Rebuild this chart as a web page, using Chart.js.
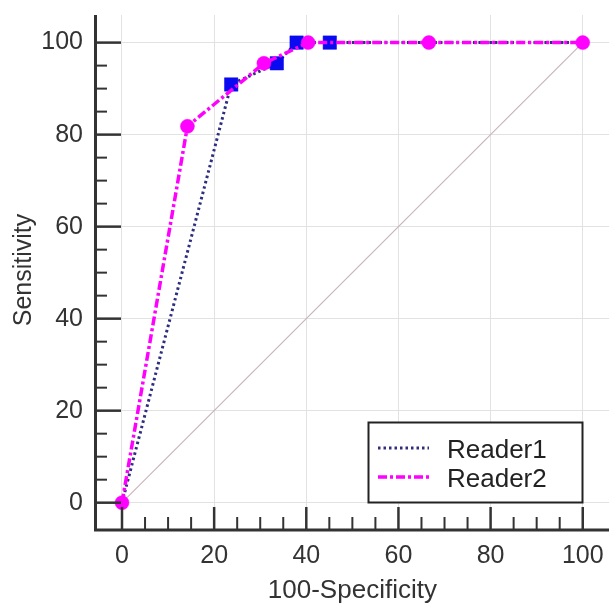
<!DOCTYPE html>
<html lang="en">
<head>
    <meta charset="UTF-8">
    <title>ROC curves</title>
    <style>
        html, body { margin: 0; padding: 0; background: #fff; }
        .chart-box { width: 609px; height: 608px; }
    </style>
</head>
<body>
    <div class="chart-box">
        <canvas id="rocChart" width="609" height="608"></canvas>
    </div>
    <script src="https://cdn.jsdelivr.net/npm/chart.js"></script>
    <script>
        // values (100-Specificity, Sensitivity)
        const reader1X = [0, 23.7, 33.6, 37.9, 45.1, 100];
        const reader1Y = [0, 90.9, 95.5, 100, 100, 100];
        const reader2X = [0, 14.2, 30.8, 40.4, 66.6, 100];
        const reader2Y = [0, 81.8, 95.5, 100, 100, 100];
        const diagX = [0, 100];
        const diagY = [0, 100];
        const tickValues = [0, 20, 40, 60, 80, 100];
        const seriesNames = ["Reader1", "Reader2"];

        const FONT = "'Liberation Sans', Arial, sans-serif";
        const TEXT = "#333";

        function toPoints(xs, ys) {
            return xs.map((x, i) => ({ x: x, y: ys[i] }));
        }

        // keep the plot area fixed: no extra room for overflowing labels
        function fixBox(s, w, h) {
            if (w) s.width = w;
            if (h) s.height = h;
            s.paddingLeft = s.paddingRight = s.paddingTop = s.paddingBottom = 0;
        }

        // axis lines, inward ticks, axis titles and the boxed legend
        const axesPlugin = {
            id: "axesPlugin",
            afterDraw(chart) {
                const ctx = chart.ctx;
                const a = chart.chartArea;
                const xs = chart.scales.x, ys = chart.scales.y;
                ctx.save();
                ctx.strokeStyle = TEXT;
                ctx.lineCap = "butt";
                for (let v = 0; v <= 100; v += 5) {
                    const major = v % 20 === 0;
                    ctx.lineWidth = major ? 2.5 : 2;
                    const py = ys.getPixelForValue(v);
                    ctx.beginPath();
                    ctx.moveTo(a.left, py);
                    ctx.lineTo(a.left + (major ? 26 : 12), py);
                    ctx.stroke();
                    const px = xs.getPixelForValue(v);
                    ctx.beginPath();
                    ctx.moveTo(px, a.bottom);
                    ctx.lineTo(px, a.bottom - (major ? 22 : 12));
                    ctx.stroke();
                }
                ctx.lineWidth = 3;
                ctx.beginPath();
                ctx.moveTo(a.left + 0.5, a.top);
                ctx.lineTo(a.left + 0.5, a.bottom + 1);
                ctx.lineTo(a.right, a.bottom + 1);
                ctx.stroke();

                // axis titles
                ctx.fillStyle = TEXT;
                ctx.font = "26px " + FONT;
                ctx.textAlign = "center";
                ctx.textBaseline = "alphabetic";
                ctx.fillText("100-Specificity", (xs.getPixelForValue(0) + xs.getPixelForValue(100)) / 2, 598);
                ctx.save();
                ctx.translate(31, 270);
                ctx.rotate(-Math.PI / 2);
                ctx.font = "25px " + FONT;
                ctx.fillText("Sensitivity", 0, 0);
                ctx.restore();

                // legend
                const bx = 368.5, by = 422.5, bw = 214, bh = 80;
                ctx.fillStyle = "#fff";
                ctx.fillRect(bx, by, bw, bh);
                ctx.lineWidth = 2;
                ctx.strokeStyle = "#222";
                ctx.strokeRect(bx, by, bw, bh);
                const sets = chart.data.datasets;
                [0, 1].forEach(i => {
                    const ds = sets[i];
                    const ly = 448 + i * 29;
                    ctx.strokeStyle = ds.borderColor;
                    ctx.lineWidth = ds.borderWidth;
                    ctx.setLineDash(ds.borderDash);
                    ctx.beginPath();
                    ctx.moveTo(378, ly);
                    ctx.lineTo(429, ly);
                    ctx.stroke();
                    ctx.setLineDash([]);
                    ctx.fillStyle = "#222";
                    ctx.textAlign = "left";
                    ctx.font = "26px " + FONT;
                    ctx.fillText(seriesNames[i], 447, ly + 10);
                });
                ctx.restore();
            }
        };

        const hideEnds = c => (c.raw && (c.raw.x === 0 || c.raw.x === 100)) ? 0 : 9.5;

        new Chart(document.getElementById("rocChart"), {
            type: "scatter",
            data: {
                datasets: [
                    {
                        label: seriesNames[0],
                        data: toPoints(reader1X, reader1Y),
                        showLine: true,
                        borderColor: "#2e2e80",
                        borderWidth: 3,
                        borderDash: [2.5, 3],
                        pointStyle: "rect",
                        pointRadius: hideEnds,
                        pointBackgroundColor: "#0a0af0",
                        pointBorderColor: "#0a0af0",
                        pointBorderWidth: 0.5,
                        order: 2
                    },
                    {
                        label: seriesNames[1],
                        data: toPoints(reader2X, reader2Y),
                        showLine: true,
                        borderColor: "#ff00ff",
                        borderWidth: 3.5,
                        borderDash: [9, 3, 3, 3],
                        pointStyle: "circle",
                        pointRadius: 7,
                        pointBackgroundColor: "#ff00ff",
                        pointBorderColor: "#ff00ff",
                        pointBorderWidth: 0.5,
                        order: 1
                    },
                    {
                        label: "diagonal",
                        data: toPoints(diagX, diagY),
                        showLine: true,
                        borderColor: "#c9b5b9",
                        borderWidth: 1.2,
                        pointRadius: 0,
                        order: 3
                    }
                ]
            },
            options: {
                responsive: false,
                animation: false,
                layout: { autoPadding: false, padding: { top: 15, right: 0, left: 0, bottom: 0 } },
                plugins: {
                    legend: { display: false },
                    tooltip: { enabled: false }
                },
                scales: {
                    x: {
                        type: "linear",
                        min: -5.86,
                        max: 105.7,
                        afterBuildTicks: s => { s.ticks = tickValues.map(v => ({ value: v })); },
                        afterFit: s => fixBox(s, 0, 79),
                        grid: { color: "#e2e2e2", lineWidth: 1, drawTicks: false },
                        border: { display: false },
                        ticks: { color: TEXT, font: { family: FONT, size: 25 }, padding: 12, maxRotation: 0 }
                    },
                    y: {
                        type: "linear",
                        min: -5.72,
                        max: 106,
                        afterBuildTicks: s => { s.ticks = tickValues.map(v => ({ value: v })); },
                        afterFit: s => fixBox(s, 95, 0),
                        grid: { color: "#e2e2e2", lineWidth: 1, drawTicks: false },
                        border: { display: false },
                        ticks: { color: TEXT, font: { family: FONT, size: 25 }, padding: 12 }
                    }
                }
            },
            plugins: [axesPlugin]
        });
    </script>
</body>
</html>
